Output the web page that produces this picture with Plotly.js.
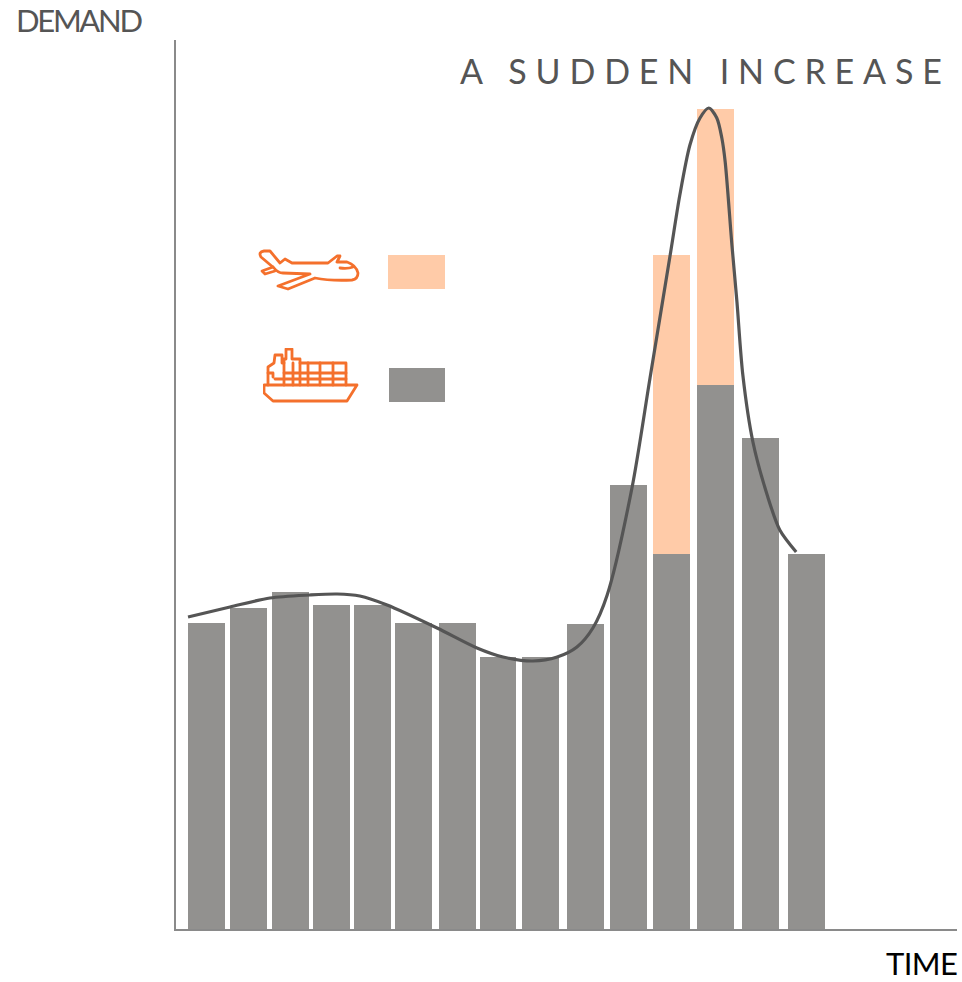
<!DOCTYPE html>
<html><head><meta charset="utf-8">
<script src="https://cdn.plot.ly/plotly-3.0.1.min.js"></script>
<style>
html,body{margin:0;padding:0;background:#fff}
#chart{width:962px;height:982px}
.annotation-text[data-unformatted="A SUDDEN INCREASE"]{letter-spacing:8.85px}
.annotation-text[data-unformatted="DEMAND"]{letter-spacing:-2.3px}
.annotation-text[data-unformatted="TIME"]{letter-spacing:-0.6px}
</style></head><body><div id="chart"></div>
<script>
// Time positions and demand values (axis units)
const time = [0.75,1.75,2.75,3.73,4.7,5.68,6.73,7.69,8.71,9.78,10.8,11.83,12.87,13.94,15.04];
const seaFreight = [307,322,338,325,325,307,307,273,273,306,445,376,545,492,376];
const airFreight = [0,0,0,0,0,0,0,0,0,0,0,299,276,0,0];
const curveTime = [0.31,1.31,2.26,3.21,3.86,4.4,5.05,6.24,7.19,7.81,8.52,9.1,9.57,9.95,10.29,10.88,11.31,11.79,12.02,12.26,12.5,12.71,12.9,13.02,13.1,13.26,13.38,13.52,13.76,14.1,14.4,14.79];
const curveDemand = [313,323,332,335,336,334,325,302,282,273,269,273,283,302,335,442,552,675,735,785,812,822,812,792,768,685,628,555,488,435,400,378];
const title = "A SUDDEN INCREASE", yLabel = "DEMAND", xLabel = "TIME";

const W=962,H=982,L=176,R=957,T=40,B=929;
const px=x=>(x-L)/(R-L), py=y=>(B-y)/(B-T);
const orange="#f4702c";
function svg(w,h,body){return "data:image/svg+xml;base64,"+btoa(`<svg xmlns="http://www.w3.org/2000/svg" width="${w*4}" height="${h*4}" viewBox="0 0 ${w} ${h}"><g fill="none" stroke="${orange}" stroke-width="2.8" stroke-linejoin="round" stroke-linecap="round">${body}</g></svg>`);}
const plane=svg(104,44,`<path d="M3 8 Q0 3 6 2 L12 2 L22 14 L27 10 L34 14 L70 14 L79 7 L82 7 L79 13 L89 13 Q98 16 100 24 Q100 30 94 31 Q72 32 57 29 L30 40 L20 37 L52 25 L25 24 Q20 24 16 19 Z"/><path d="M15 18 L4 22 L7 25 L17 22"/><path d="M82 19 Q90 20 95 18"/>`);
const ship=svg(98,58,`<path d="M1 37 L94 37 L84 53 L10 53 L1 45 Z"/><path d="M5 37 L5 19 L11 15 L12 7 L19 7 L19 15 L21 15 L21 11 L23 11 L23 1 L29 1 L29 11 L37 11 L37 15 L83 15 L83 37"/><path d="M21 15 L21 37 M30 15 L30 37 M37 15 L37 37 M45 15 L45 37 M57 15 L57 37 M70 15 L70 37"/><path d="M21 25 L83 25 M12 31 L83 31 M5 25 L10 25 M10 25 L10 29"/>`);

const traces=[
 {type:"bar",x:time,y:seaFreight,width:0.88,name:"Sea",marker:{color:"#92918f"},hoverinfo:"y"},
 {type:"bar",x:time,y:airFreight,width:0.88,name:"Air",marker:{color:"#ffcba8"},hoverinfo:"y"},
 {type:"scatter",mode:"lines",x:curveTime,y:curveDemand,name:"Demand",line:{color:"#555555",width:3.2,shape:"spline",smoothing:0.8},hoverinfo:"skip"}
];
const layout={
 width:W,height:H,paper_bgcolor:"#fff",plot_bgcolor:"#fff",showlegend:false,barmode:"stack",
 margin:{l:L,r:W-R,t:T,b:H-B,pad:0},
 xaxis:{range:[(L-175)/42,(R-175)/42],showgrid:false,zeroline:false,showticklabels:false,ticks:"",showline:true,linecolor:"#8a8a8a",linewidth:2},
 yaxis:{range:[930-B,930-T],showgrid:false,zeroline:false,showticklabels:false,ticks:"",showline:true,linecolor:"#8a8a8a",linewidth:2},
 shapes:[
  {type:"rect",xref:"paper",yref:"paper",x0:px(388),x1:px(445),y0:py(289),y1:py(255),fillcolor:"#ffcba8",line:{width:0}},
  {type:"rect",xref:"paper",yref:"paper",x0:px(389),x1:px(445),y0:py(402),y1:py(368),fillcolor:"#92918f",line:{width:0}}
 ],
 images:[
  {source:plane,xref:"paper",yref:"paper",x:px(258),y:py(249),sizex:104/(R-L),sizey:44/(B-T),sizing:"stretch",xanchor:"left",yanchor:"top",layer:"above"},
  {source:ship,xref:"paper",yref:"paper",x:px(263),y:py(348),sizex:98/(R-L),sizey:58/(B-T),sizing:"stretch",xanchor:"left",yanchor:"top",layer:"above"}
 ],
 annotations:[
  {text:title,showarrow:false,xref:"paper",yref:"paper",x:px(458),y:py(71),xanchor:"left",yanchor:"middle",font:{family:"Lato, 'Open Sans', sans-serif",size:34,color:"#555555"}},
  {text:yLabel,showarrow:false,xref:"paper",yref:"paper",x:px(14),y:py(20),xanchor:"left",yanchor:"middle",font:{family:"Lato, sans-serif",size:31,color:"#555555"}},
  {text:xLabel,showarrow:false,xref:"paper",yref:"paper",x:px(959),y:py(963),xanchor:"right",yanchor:"middle",font:{family:"Lato, sans-serif",size:31,color:"#000000"}}
 ]
};
Plotly.newPlot("chart",traces,layout,{displayModeBar:false,staticPlot:true});
</script></body></html>
